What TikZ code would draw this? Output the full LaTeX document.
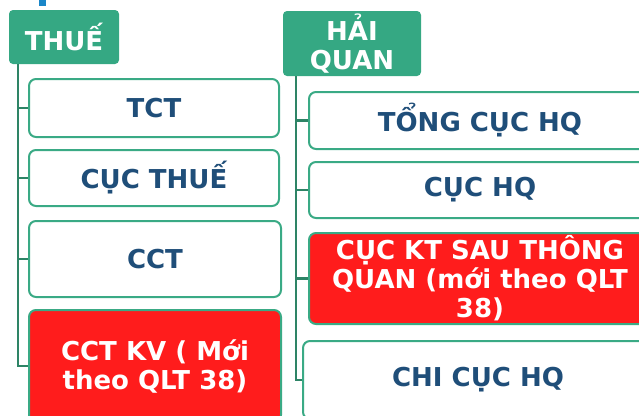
\documentclass[tikz,border=0pt]{standalone}
\usepackage{fontspec}
\setmainfont{DejaVu Sans}
\definecolor{hdrgreen}{HTML}{35A883}
\definecolor{bordgreen}{HTML}{3AAA85}
\definecolor{linegreen}{HTML}{2E8466}
\definecolor{txtblue}{HTML}{1F4E79}
\definecolor{hotred}{HTML}{FF1C1C}
\definecolor{markblue}{HTML}{1A86C8}
\begin{document}
\begin{tikzpicture}[x=1pt,y=-1pt,
  hdr/.style={fill=hdrgreen, draw=none, rounded corners=4pt, text=white, font=\fontsize{26}{29}\selectfont\bfseries, align=center, inner sep=0pt},
  box/.style={draw=bordgreen, line width=2pt, fill=white, rounded corners=7pt, text=txtblue, font=\fontsize{26}{29}\selectfont\bfseries, align=center, inner sep=0pt},
  redbox/.style={box, fill=hotred, text=white},
  conn/.style={draw=linegreen, line width=2.5pt}]
\useasboundingbox (0,0) rectangle (639,415);
\fill[markblue] (39,0) rectangle (46,6);
% left column
\node[hdr, minimum width=110pt, minimum height=54pt] (thue) at (64,37) {THUẾ};
\coordinate (ltop) at (18,64);
\node[box, minimum width=250pt, minimum height=58pt] (tct) at (154,108) {TCT};
\node[box, minimum width=250pt, minimum height=56pt] (cucthue) at (154,178) {CỤC THUẾ};
\node[box, minimum width=252pt, minimum height=76pt] (cct) at (155,259) {CCT};
\node[redbox, minimum width=252pt, minimum height=112pt] (cctkv) at (155,366) {CCT KV ( Mới\\theo QLT 38)};
\draw[conn] (ltop) |- (cctkv.west);
\draw[conn] (ltop |- tct.west) -- (tct.west);
\draw[conn] (ltop |- cucthue.west) -- (cucthue.west);
\draw[conn] (ltop |- cct.west) -- (cct.west);
% right column
\node[hdr, minimum width=138pt, minimum height=65pt] (haiquan) at (352,43.5) {HẢI\\QUAN};
\coordinate (rtop) at (296,76);
\node[box, minimum width=342pt, minimum height=57pt] (tongcuc) at (480,120.5) {TỔNG CỤC HQ};
\node[box, minimum width=342pt, minimum height=56pt] (cuchq) at (480,190) {CỤC HQ};
\node[redbox, minimum width=342pt, minimum height=91pt] (cuckt) at (480,278.5) {CỤC KT SAU THÔNG\\QUAN (mới theo QLT\\38)};
\node[box, minimum width=350pt, minimum height=78pt] (chicuc) at (478,380) {CHI CỤC HQ};
\draw[conn] (rtop) |- (chicuc.west);
\draw[conn] (rtop |- tongcuc.west) -- (tongcuc.west);
\draw[conn] (rtop |- cuchq.west) -- (cuchq.west);
\draw[conn] (rtop |- cuckt.west) -- (cuckt.west);
\end{tikzpicture}
\end{document}
